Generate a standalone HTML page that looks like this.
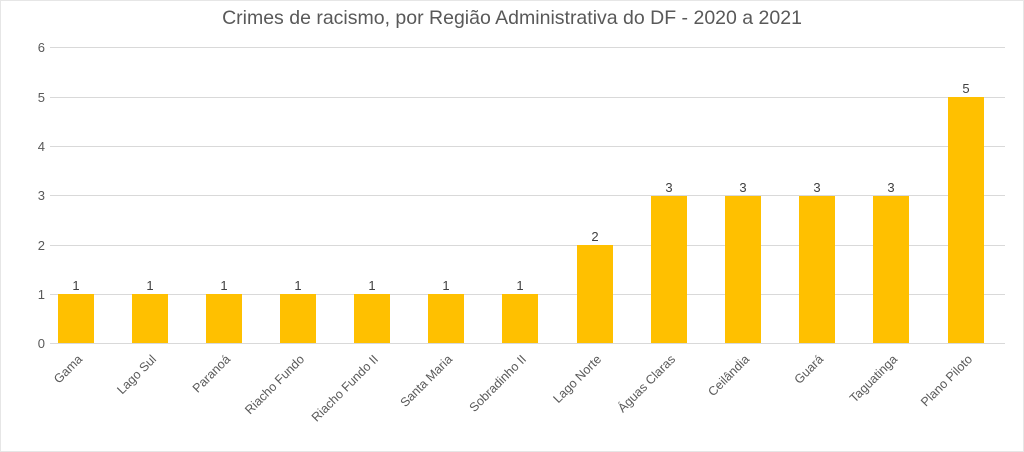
<!DOCTYPE html>
<html><head><style>
body{margin:0;background:#fff;}
svg{display:block;font-family:"Liberation Sans",sans-serif;}
</style></head><body>
<svg width="1024" height="452" viewBox="0 0 1024 452">
<rect x="0.5" y="0.5" width="1023" height="451" fill="#fff" stroke="#e6e6e6"/>
<text x="512" y="24" text-anchor="middle" font-size="19.5" fill="#595959">Crimes de racismo, por Região Administrativa do DF - 2020 a 2021</text>
<g stroke="#d9d9d9" stroke-width="1">
<line x1="50" x2="1005" y1="47.5" y2="47.5"/>
<line x1="50" x2="1005" y1="97.5" y2="97.5"/>
<line x1="50" x2="1005" y1="146.5" y2="146.5"/>
<line x1="50" x2="1005" y1="195.5" y2="195.5"/>
<line x1="50" x2="1005" y1="245.5" y2="245.5"/>
<line x1="50" x2="1005" y1="294.5" y2="294.5"/>
<line x1="50" x2="1005" y1="343.5" y2="343.5"/>
</g>
<g font-size="13" fill="#595959" text-anchor="end">
<text x="45" y="52">6</text><text x="45" y="102">5</text><text x="45" y="151">4</text>
<text x="45" y="200">3</text><text x="45" y="250">2</text><text x="45" y="299">1</text><text x="45" y="348">0</text>
</g>
<g fill="#ffc000">
<rect x="58" y="294" width="36" height="49"/>
<rect x="132" y="294" width="36" height="49"/>
<rect x="206" y="294" width="36" height="49"/>
<rect x="280" y="294" width="36" height="49"/>
<rect x="354" y="294" width="36" height="49"/>
<rect x="428" y="294" width="36" height="49"/>
<rect x="502" y="294" width="36" height="49"/>
<rect x="577" y="245" width="36" height="98"/>
<rect x="651" y="196" width="36" height="147"/>
<rect x="725" y="196" width="36" height="147"/>
<rect x="799" y="196" width="36" height="147"/>
<rect x="873" y="196" width="36" height="147"/>
<rect x="948" y="97" width="36" height="246"/>
</g>
<g font-size="13" fill="#404040" text-anchor="middle">
<text x="76" y="290">1</text><text x="150" y="290">1</text><text x="224" y="290">1</text>
<text x="298" y="290">1</text><text x="372" y="290">1</text><text x="446" y="290">1</text>
<text x="520" y="290">1</text><text x="595" y="241">2</text><text x="669" y="192">3</text>
<text x="743" y="192">3</text><text x="817" y="192">3</text><text x="891" y="192">3</text>
<text x="966" y="93">5</text>
</g>
<g font-size="12.5" fill="#595959" text-anchor="end">
<text transform="translate(83,360) rotate(-45)">Gama</text>
<text transform="translate(157,360) rotate(-45)">Lago Sul</text>
<text transform="translate(231,360) rotate(-45)">Paranoá</text>
<text transform="translate(305,360) rotate(-45)">Riacho Fundo</text>
<text transform="translate(379,360) rotate(-45)">Riacho Fundo II</text>
<text transform="translate(453,360) rotate(-45)">Santa Maria</text>
<text transform="translate(527,360) rotate(-45)">Sobradinho II</text>
<text transform="translate(602,360) rotate(-45)">Lago Norte</text>
<text transform="translate(676,360) rotate(-45)">Águas Claras</text>
<text transform="translate(750,360) rotate(-45)">Ceilândia</text>
<text transform="translate(824,360) rotate(-45)">Guará</text>
<text transform="translate(898,360) rotate(-45)">Taguatinga</text>
<text transform="translate(973,360) rotate(-45)">Plano Piloto</text>
</g>
</svg>
</body></html>
